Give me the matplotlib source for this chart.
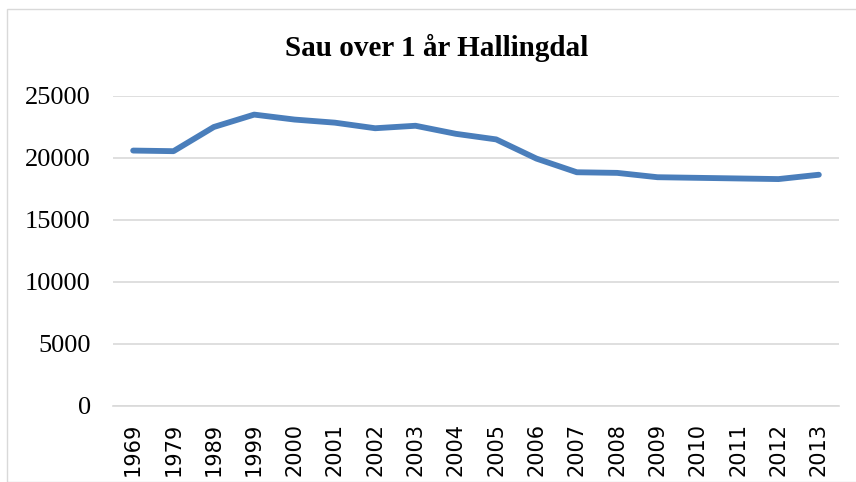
import matplotlib.pyplot as plt
from matplotlib.patches import Rectangle

years = ['1969', '1979', '1989', '1999', '2000', '2001', '2002', '2003', '2004',
         '2005', '2006', '2007', '2008', '2009', '2010', '2011', '2012', '2013']
sau = [20600, 20550, 22500, 23500, 23100, 22850, 22400, 22600, 21950,
       21500, 19950, 18850, 18800, 18450, 18400, 18350, 18300, 18650]

W, H = 856, 482
fig = plt.figure(figsize=(W / 100, H / 100), dpi=100)

# chart frame
fig.patches.append(Rectangle((7 / W, 0), 1, 1 - 9 / H, transform=fig.transFigure,
                             fill=False, edgecolor='#d9d9d9', linewidth=1))

ax = fig.add_axes([113 / W, 1 - 406 / H, (839 - 113) / W, (406 - 96) / H])
x = list(range(len(years)))
ax.plot(x, sau, color='#4a7ebb', linewidth=4.2, solid_capstyle='round', zorder=3)

ax.set_xlim(-0.5, len(years) - 0.5)
ax.set_ylim(0, 25000)
ax.set_yticks(range(0, 25001, 5000))
ax.set_yticklabels([str(v) for v in range(0, 25001, 5000)],
                   fontfamily='Liberation Serif', fontsize=19)
ax.set_xticks(x)
ax.set_xticklabels(years, rotation=90)
for lab in ax.get_xticklabels():
    lab.set_fontfamily('DejaVu Sans')
    lab.set_fontsize(15)
ax.tick_params(axis='y', length=0, pad=16)
ax.tick_params(axis='x', length=0, pad=12)
ax.grid(axis='y', color='#d9d9d9', linewidth=1.2)
ax.set_axisbelow(True)
for s in ['top', 'right', 'left']:
    ax.spines[s].set_visible(False)
ax.spines['bottom'].set_color('#d9d9d9')
ax.spines['bottom'].set_linewidth(1.2)

fig.text(437 / W, 1 - 48 / H, 'Sau over 1 år Hallingdal', ha='center', va='center',
         fontfamily='Liberation Serif', fontweight='bold', fontsize=21)

fig.savefig('out.png', dpi=100)
